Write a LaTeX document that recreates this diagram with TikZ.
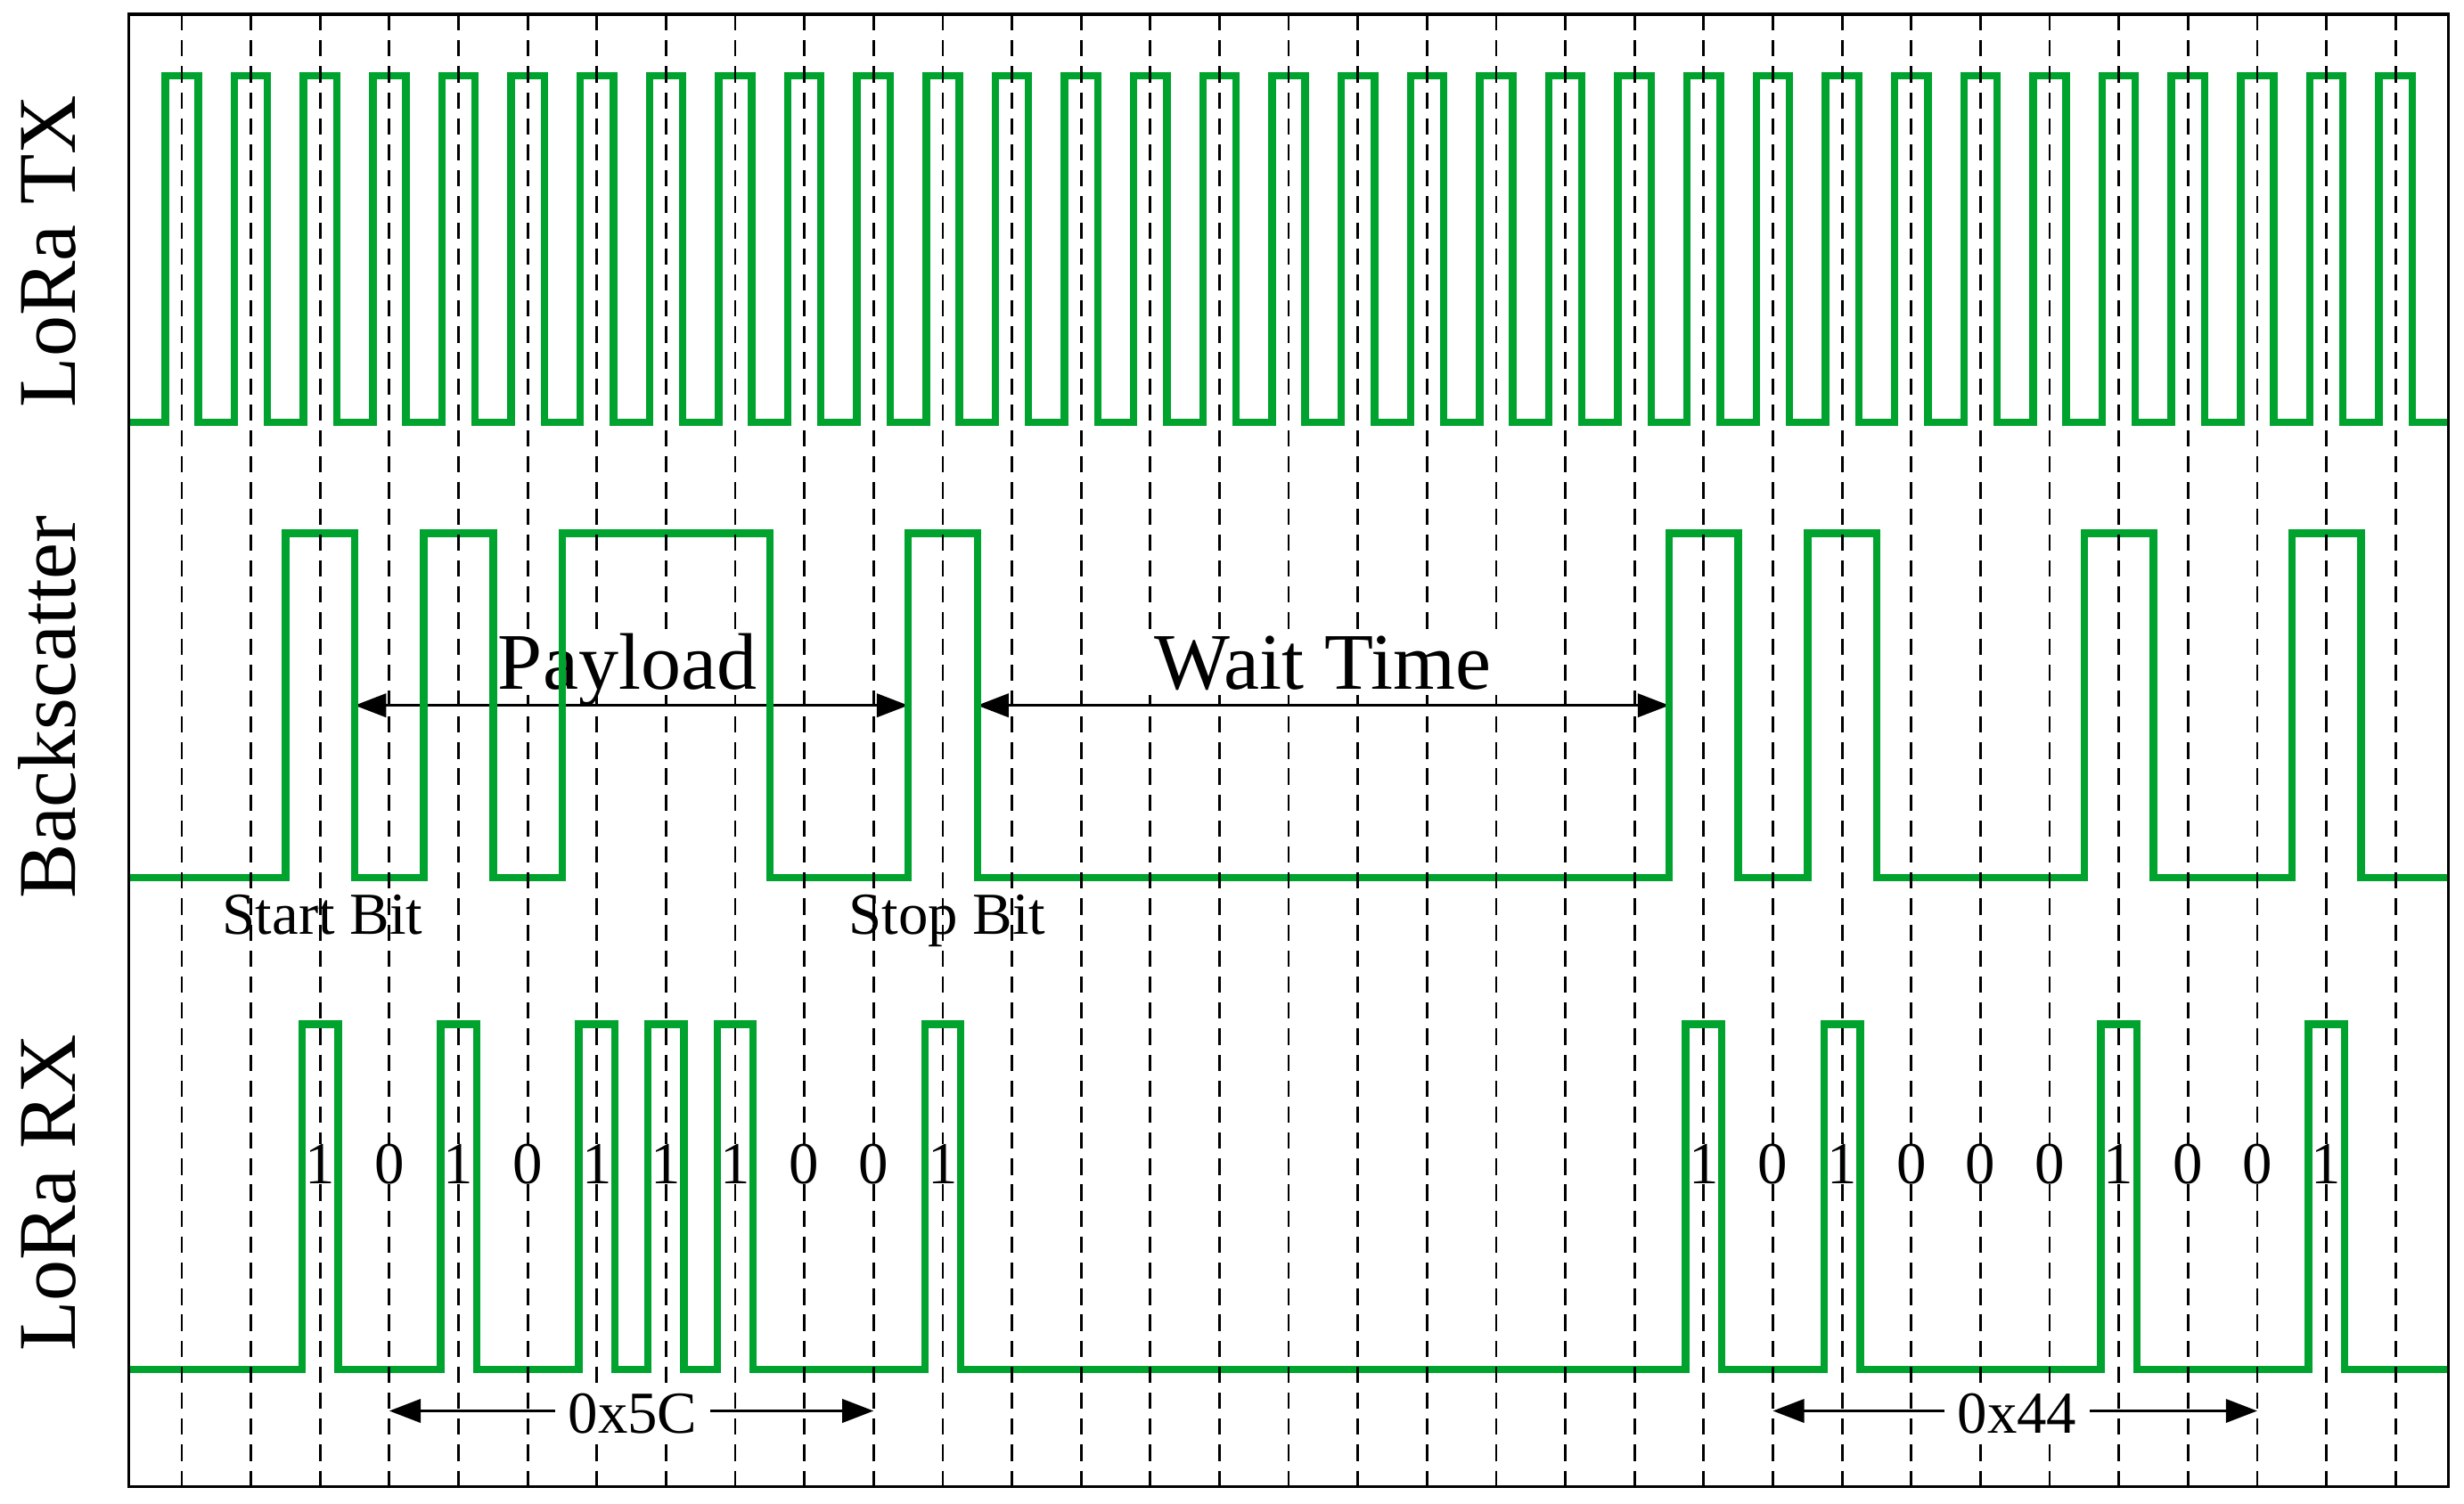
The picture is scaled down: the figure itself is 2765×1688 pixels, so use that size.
\documentclass[tikz,border=0pt]{standalone}
\usepackage{fontspec}
\setmainfont{Liberation Serif}
\usetikzlibrary{arrows.meta}
\definecolor{sg}{RGB}{0,163,46}
\begin{document}
\begin{tikzpicture}[x=0.01cm,y=-0.01cm,
  sig/.style={draw=sg,line width=2.4pt},
  gridln/.style={draw=black,line width=0.8pt,dash pattern=on 5.2pt off 3.1pt},
  framebox/.style={draw=black,line width=0.9pt},
  arr/.style={draw=black,line width=0.75pt,-{Triangle[length=10pt,width=7.5pt]}},
  darr/.style={draw=black,line width=0.75pt,{Triangle[length=10pt,width=7.5pt]}-{Triangle[length=10pt,width=7.5pt]}},
  axlab/.style={font=\fontsize{26.2pt}{30pt}\selectfont,rotate=90,anchor=base,inner sep=0pt},
  biglab/.style={font=\fontsize{25.6pt}{30pt}\selectfont,anchor=base,fill=white,inner xsep=2pt,inner ysep=0pt,text depth=0.2em},
  smlab/.style={font=\fontsize{19pt}{22pt}\selectfont,anchor=base,inner sep=0pt},
  bitlab/.style={font=\fontsize{19pt}{22pt}\selectfont,anchor=base,fill=white,inner xsep=-1.5pt,inner ysep=0pt},
  hexlab/.style={font=\fontsize{19pt}{22pt}\selectfont,anchor=base,fill=white,inner xsep=4pt,inner ysep=1pt}
]
\useasboundingbox (0,0) rectangle (2765,1688);

% dashed grid
\foreach \k in {0,...,32}
  \draw[gridln] ({204+77.63*\k},16) -- ({204+77.63*\k},1668.5);

% labels with white background
\node[biglab] (pay) at (704,773) {Payload};
\node[biglab] (wait) at (1484.5,773) {Wait Time};
\foreach \k/\b in {2/1,3/0,4/1,5/0,6/1,7/1,8/1,9/0,10/0,11/1,22/1,23/0,24/1,25/0,26/0,27/0,28/1,29/0,30/0,31/1}
  \node[bitlab] (bit\k) at ({204+77.63*\k},1328) {\b};
\node[hexlab] (hexA) at (710,1608) {0x5C};
\node[hexlab] (hexB) at (2263.5,1608) {0x44};

% arrows
\coordinate (pa) at (398.1,791.7);
\coordinate (pb) at (1019.1,791.7);
\coordinate (wa) at (1096.7,791.7);
\coordinate (wb) at (1873.05,791.7);
\draw[darr] (pa) -- (pb);
\draw[darr] (wa) -- (wb);
\coordinate (hexAL) at ({204+77.63*3},1583.5);
\coordinate (hexAR) at ({204+77.63*10},1583.5);
\coordinate (hexBL) at ({204+77.63*23},1583.5);
\coordinate (hexBR) at ({204+77.63*30},1583.5);
\draw[arr] (hexAL -| hexA.west) -- (hexAL);
\draw[arr] (hexAR -| hexA.east) -- (hexAR);
\draw[arr] (hexBL -| hexB.west) -- (hexBL);
\draw[arr] (hexBR -| hexB.east) -- (hexBR);

% LoRa TX
\draw[sig] (144.6,474)
  \foreach \k in {0,...,32} { -- ({204+77.63*\k-18.6},474) -- ({204+77.63*\k-18.6},85) -- ({204+77.63*\k+18.6},85) -- ({204+77.63*\k+18.6},474) }
  -- (2747.5,474);

% Backscatter
\draw[sig] (144.6,985)
  \foreach \a/\b in {2/3,4/5,6/9,11/12,22/23,24/25,28/29,31/32} { -- ({165.185+77.63*\a},985) -- ({165.185+77.63*\a},598.5) -- ({165.185+77.63*\b},598.5) -- ({165.185+77.63*\b},985) }
  -- (2747.5,985);

% LoRa RX
\draw[sig] (144.6,1536.8)
  \foreach \k in {2,4,6,7,8,11,22,24,28,31} { -- ({204+77.63*\k-20.2},1536.8) -- ({204+77.63*\k-20.2},1149.5) -- ({204+77.63*\k+20.2},1149.5) -- ({204+77.63*\k+20.2},1536.8) }
  -- (2747.5,1536.8);

% dashes over green at crossings
\begin{scope}
  \clip (0,76) rectangle (2765,94) (0,589) rectangle (2765,608) (0,976) rectangle (2765,994) (0,1140) rectangle (2765,1159) (0,1527) rectangle (2765,1546);
  \foreach \k in {0,...,32}
    \draw[gridln] ({204+77.63*\k},16) -- ({204+77.63*\k},1668.5);
\end{scope}

% other labels
\node[smlab] (start) at (362,1048) {Start Bit};
\node[smlab] (stop) at (1063,1048) {Stop Bit};
\node[axlab] (tx) at (84,282) {LoRa TX};
\node[axlab] (bs) at (84,793.5) {Backscatter};
\node[axlab] (rx) at (84,1339) {LoRa RX};

% frame
\draw[framebox] (144.6,16) rectangle (2747.5,1668.5);
\end{tikzpicture}
\end{document}
